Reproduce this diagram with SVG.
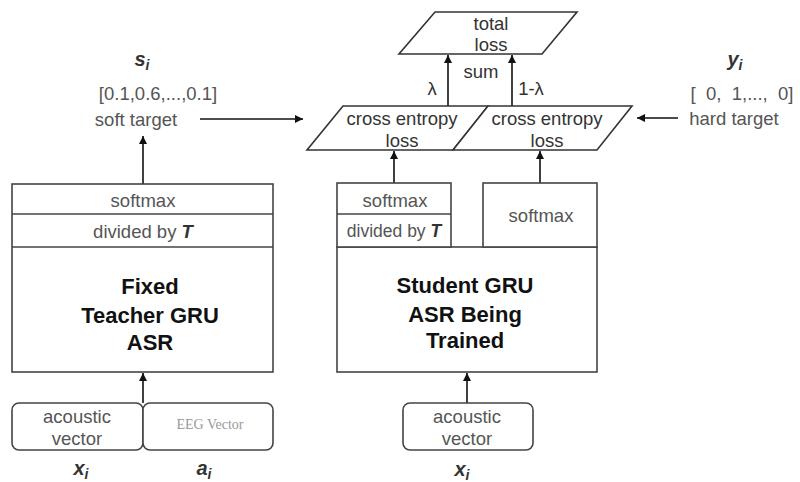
<svg xmlns="http://www.w3.org/2000/svg" width="800" height="482" viewBox="0 0 800 482">
  <defs>
    <marker id="arrow" viewBox="0 0 10 10" refX="10" refY="5" markerWidth="8" markerHeight="8" markerUnits="userSpaceOnUse" orient="auto">
      <path d="M0,0 L10,5 L0,10 z" fill="#111"/>
    </marker>
    <style>
      .box { fill: #fff; stroke: #444; stroke-width: 1.6; }
      .shape { fill: #fff; stroke: #333; stroke-width: 1.6; stroke-linejoin: miter; }
      .conn { fill: none; stroke: #111; stroke-width: 1.6; marker-end: url(#arrow); }
      .lbl { font-family: "Liberation Sans", Arial, sans-serif; font-size: 18.5px; fill: #555; text-anchor: middle; }
      .edge { font-family: "Liberation Sans", Arial, sans-serif; font-size: 18.5px; fill: #333; text-anchor: middle; }
      .title { font-family: "Liberation Sans", Arial, sans-serif; font-size: 22px; font-weight: bold; fill: #111; text-anchor: middle; }
      .var { font-family: "Liberation Sans", Arial, sans-serif; font-size: 20px; font-weight: bold; font-style: italic; fill: #333; text-anchor: middle; }
      .sub { font-size: 14px; }
      .eeg { font-family: "Liberation Serif", "Times New Roman", serif; font-size: 14px; fill: #999; text-anchor: middle; }
    </style>
  </defs>

  <!-- connectors -->
  <g id="connectors">
    <line class="conn" x1="143" y1="184" x2="143" y2="136"/>
    <line class="conn" x1="200" y1="119" x2="303" y2="119"/>
    <line class="conn" x1="678" y1="118" x2="637" y2="118"/>
    <line class="conn" x1="394" y1="183" x2="394" y2="151"/>
    <line class="conn" x1="540" y1="183" x2="540" y2="151"/>
    <line class="conn" x1="448" y1="106" x2="448" y2="55"/>
    <line class="conn" x1="512" y1="106" x2="512" y2="55"/>
    <line class="conn" x1="143" y1="403" x2="143" y2="373"/>
    <line class="conn" x1="467" y1="403" x2="467" y2="373"/>
    <text class="edge" x="432" y="95">λ</text>
    <text class="edge" x="481" y="78">sum</text>
    <text class="edge" x="531" y="95">1-λ</text>
  </g>

  <!-- total loss -->
  <g id="total-loss">
    <polygon class="shape" points="435,12 577,12 542,54 399,54"/>
    <text class="edge" x="491" y="30">total</text>
    <text class="edge" x="491" y="51">loss</text>
  </g>

  <!-- cross entropy losses -->
  <g id="ce-soft">
    <polygon class="shape" points="343,106 488,106 453,150 307,150"/>
    <text class="edge" x="402" y="125">cross entropy</text>
    <text class="edge" x="402" y="147">loss</text>
  </g>
  <g id="ce-hard">
    <polygon class="shape" points="488,106 632,106 597,150 453,150"/>
    <text class="edge" x="547" y="125">cross entropy</text>
    <text class="edge" x="547" y="147">loss</text>
  </g>

  <!-- soft target -->
  <g id="soft-target">
    <text class="var" x="142" y="66">s<tspan class="sub" dy="4">i</tspan></text>
    <text class="lbl" x="158" y="100" style="text-anchor:middle">[0.1,0.6,...,0.1]</text>
    <text class="lbl" x="136" y="126">soft target</text>
  </g>

  <!-- hard target -->
  <g id="hard-target">
    <text class="var" x="735" y="66">y<tspan class="sub" dy="4">i</tspan></text>
    <text class="lbl" x="742" y="100" xml:space="preserve">[  0,  1,...,  0]</text>
    <text class="lbl" x="734" y="125">hard target</text>
  </g>

  <!-- teacher model -->
  <g id="teacher">
    <rect class="box" x="12" y="184" width="261" height="188"/>
    <line class="box" x1="12" y1="214" x2="273" y2="214"/>
    <line class="box" x1="12" y1="247" x2="273" y2="247"/>
    <text class="lbl" x="143" y="207">softmax</text>
    <text class="lbl" x="143" y="238">divided by <tspan font-weight="bold" font-style="italic" fill="#333">T</tspan></text>
    <text class="title" x="150" y="294">Fixed</text>
    <text class="title" x="150" y="323">Teacher GRU</text>
    <text class="title" x="150" y="350">ASR</text>
  </g>

  <!-- student model -->
  <g id="student">
    <rect class="box" x="337" y="247" width="260" height="125"/>
    <rect class="box" x="337" y="183" width="114" height="64"/>
    <line class="box" x1="337" y1="214" x2="451" y2="214"/>
    <rect class="box" x="483" y="183" width="114" height="64"/>
    <text class="lbl" x="395" y="207">softmax</text>
    <text class="lbl" x="394" y="237" style="font-size:17.5px">divided by <tspan font-weight="bold" font-style="italic" fill="#333">T</tspan></text>
    <text class="lbl" x="541" y="222">softmax</text>
    <text class="title" x="465" y="293">Student GRU</text>
    <text class="title" x="465" y="322">ASR Being</text>
    <text class="title" x="465" y="348">Trained</text>
  </g>

  <!-- teacher inputs -->
  <g id="teacher-acoustic">
    <rect class="box" x="12" y="403" width="131" height="47" rx="7"/>
    <text class="lbl" x="77" y="423">acoustic</text>
    <text class="lbl" x="77" y="445">vector</text>
    <text class="var" x="81" y="475">x<tspan class="sub" dy="4">i</tspan></text>
  </g>
  <g id="teacher-eeg">
    <rect class="box" x="143" y="403" width="130" height="47" rx="7"/>
    <text class="eeg" x="210" y="429">EEG Vector</text>
    <text class="var" x="204" y="475">a<tspan class="sub" dy="4">i</tspan></text>
  </g>

  <!-- student input -->
  <g id="student-acoustic">
    <rect class="box" x="403" y="403" width="130" height="47" rx="7"/>
    <text class="lbl" x="467" y="423">acoustic</text>
    <text class="lbl" x="467" y="445">vector</text>
    <text class="var" x="462" y="476">x<tspan class="sub" dy="4">i</tspan></text>
  </g>
</svg>
